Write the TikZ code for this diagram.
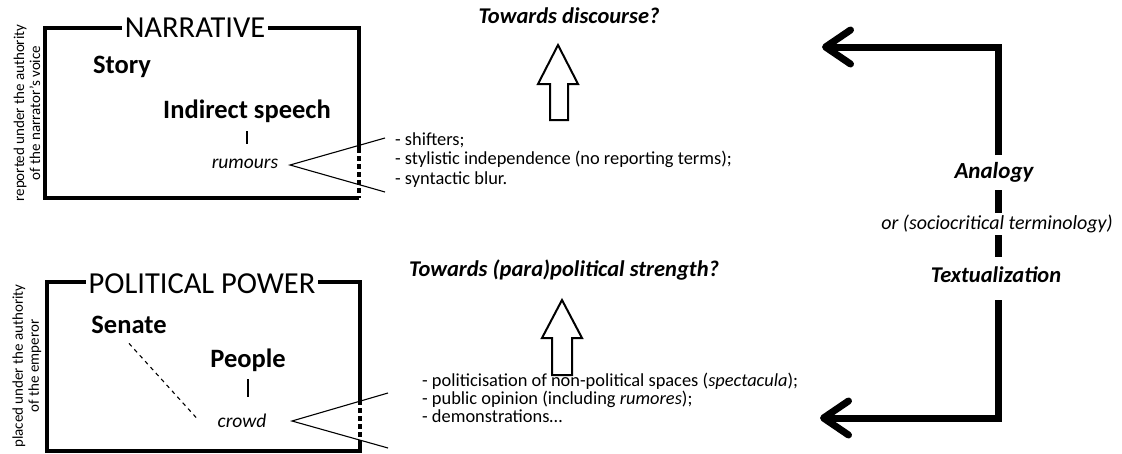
\documentclass[tikz,border=0pt]{standalone}
\usepackage{fontspec}
\setmainfont{Carlito}
\usetikzlibrary{arrows.meta}
\begin{document}
\begin{tikzpicture}[x=1pt,y=-1pt,
  boxline/.style={line width=3.4pt, line join=miter},
  boxdash/.style={line width=3.4pt, dash pattern=on 5pt off 3pt},
  title/.style={font=\fontsize{30.5}{34}\selectfont, fill=white, inner xsep=3pt, inner ysep=0pt},
  term/.style={font=\bfseries\fontsize{26.5}{30}\selectfont, inner sep=0pt, text height=0.64em, text depth=0pt},
  sub/.style={font=\itshape\fontsize{19.5}{22}\selectfont, inner sep=0pt, text height=0.47em, text depth=0pt},
  bullets/.style={align=left, anchor=base west, inner sep=0pt},
  side/.style={font=\fontsize{15}{16}\selectfont, align=center, rotate=90, inner sep=0pt},
  goal/.style={font=\bfseries\itshape\fontsize{22.5}{26}\selectfont, inner sep=0pt, text height=0.64em, text depth=0pt},
  note/.style={font=\itshape\fontsize{20}{22}\selectfont, inner sep=0pt, text height=0.47em, text depth=0pt},
  thinline/.style={line width=1.1pt},
  tick/.style={line width=1.5pt},
  hollow/.style={line width=2pt, line join=miter},
  bigline/.style={line width=7pt, line join=miter},
  bigtip/.style={-{Straight Barb[length=25pt,width=34pt,round]}}
]
\useasboundingbox (0,0) rectangle (1122,453);

% ---------- side labels ----------
\node[side] (sideA) at (27,113) {reported under the authority\\of the narrator’s voice};
\node[side] (sideB) at (27,366) {placed under the authority\\of the emperor};

% ---------- NARRATIVE box ----------
\draw[boxline] (359,148) -- (359,28) -- (45,28) -- (45,198) -- (359,198);
\draw[boxdash] (359,148) -- (359,198);
\node[title] (narr) at (195,28) {NARRATIVE};
\node[term] (story) at (122,70) {Story};
\node[term] (ind) at (247,115) {Indirect speech};
\node[sub] (rum) at (245,166) {rumours};
\draw[tick] ([yshift=-13pt]ind.south) -- ([yshift=-26pt]ind.south);
\coordinate (rumS) at (290,165);
\coordinate (rumA) at (385,138);
\coordinate (rumB) at (385,192);
\draw[thinline] (rumA) -- (rumS) -- (rumB);
\node[bullets, font=\fontsize{18.4}{19.5}\selectfont] (blt1) at (395,184) {- shifters;\\- stylistic independence (no reporting terms);\\- syntactic blur.};

% ---------- POLITICAL POWER box ----------
\draw[boxline] (360,400) -- (360,282) -- (47,282) -- (47,451) -- (360,451) -- (360,440);
\draw[boxdash] (360,400) -- (360,440);
\node[title] (pol) at (202,284) {POLITICAL POWER};
\node[term] (sen) at (129,330) {Senate};
\node[term] (peo) at (248,364) {People};
\node[sub] (crowd) at (242,425) {crowd};
\draw[tick] ([yshift=-12pt]peo.south) -- ([yshift=-30pt]peo.south);
\draw[thinline, dash pattern=on 4pt off 4pt] ([yshift=-10pt]sen.south) -- ([shift={(-20pt,6pt)}]crowd.west);
\coordinate (crS) at (292,421);
\coordinate (crA) at (388,393);
\coordinate (crB) at (388,448);
\draw[thinline] (crA) -- (crS) -- (crB);
\node[bullets, font=\fontsize{18.4}{18}\selectfont] (blt2) at (422,422) {- politicisation of non-political spaces (\textit{spectacula});\\- public opinion (including \textit{rumores});\\- demonstrations…};

% ---------- hollow arrows ----------
\node[goal] (g1) at (569,20) {Towards discourse?};
\draw[hollow] (558,45) -- (578,84) -- (568,84) -- (568,120) -- (550,120) -- (550,84) -- (538,84) -- cycle;
\node[goal] (g2) at (564,273) {Towards (para)political strength?};
\draw[hollow] (562,300) -- (582,338) -- (572,338) -- (572,375) -- (552,375) -- (552,338) -- (542,338) -- cycle;

% ---------- big bracket arrow ----------
\node[goal, font=\bfseries\itshape\fontsize{23}{26}\selectfont] (ana) at (994,175) {Analogy};
\node[note] (or) at (997,227) {or (sociocritical terminology)};
\node[goal] (tex) at (996,279) {Textualization};
\coordinate (tT) at (822,47);
\coordinate (cT) at (998,47);
\coordinate (cB) at (998,418);
\coordinate (tB) at (820,418);
\draw[bigline, bigtip] (998,155) -- (cT) -- (tT);
\draw[bigline, bigtip] (998,300) -- (cB) -- (tB);
\draw[bigline] (998,190) -- (998,213);
\draw[bigline] (998,235) -- (998,257);
\end{tikzpicture}
\end{document}
